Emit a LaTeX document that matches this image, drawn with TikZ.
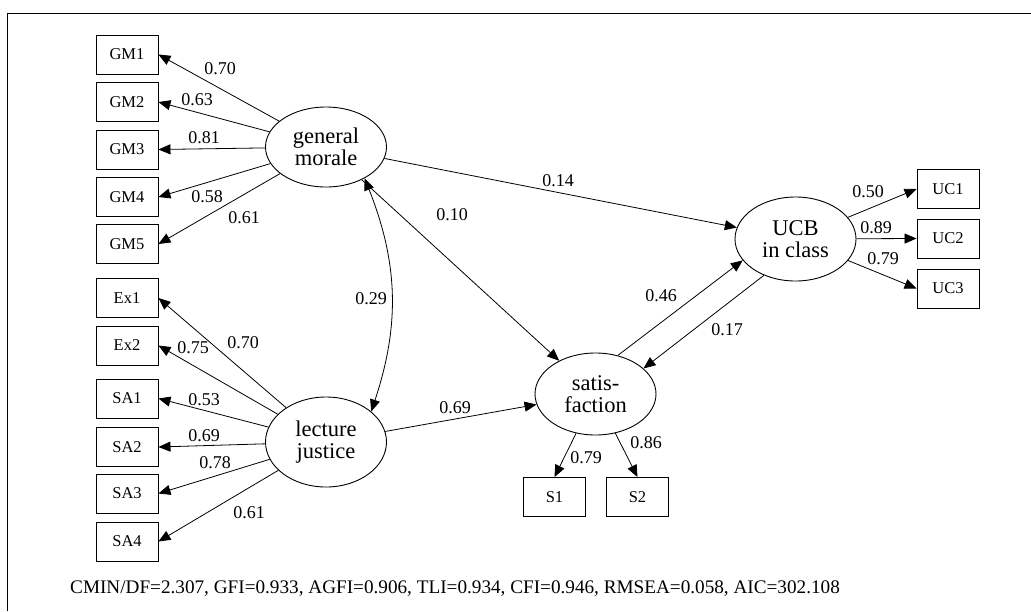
\documentclass[tikz,border=0pt]{standalone}
\usepackage{fontspec}
\setmainfont{Liberation Serif}
\usetikzlibrary{shapes.geometric,arrows.meta}
\tikzset{
  obs/.style={draw,line width=0.9pt,minimum width=62pt,minimum height=39pt,
    inner sep=0pt,font=\fontsize{16.5}{18}\selectfont},
  lat/.style={draw,ellipse,line width=0.9pt,minimum width=121pt,inner sep=0pt,
    align=center,font=\fontsize{22.5}{22}\selectfont},
  lbl/.style={inner sep=0pt,font=\fontsize{18}{18}\selectfont},
  arr/.style={line width=0.8pt,-{Triangle[length=12pt,width=10pt]}},
  arrboth/.style={line width=0.8pt,
    {Triangle[length=12pt,width=10pt]}-{Triangle[length=12pt,width=10pt]}},
}
\begin{document}
\begin{tikzpicture}[x=1pt,y=-1pt]
  \useasboundingbox (0,0) rectangle (1031,611);
  \draw[line width=1pt] (7,611) |- (1031,13);
  % observed variables
  \node[obs] (gm1) at (127,54.5) {GM1};
  \node[obs] (gm2) at (127,102) {GM2};
  \node[obs] (gm3) at (127,149.5) {GM3};
  \node[obs] (gm4) at (127,197) {GM4};
  \node[obs] (gm5) at (127,244) {GM5};
  \node[obs] (ex1) at (127,298) {Ex1};
  \node[obs] (ex2) at (127,345.5) {Ex2};
  \node[obs] (sa1) at (127,398.5) {SA1};
  \node[obs] (sa2) at (127,447) {SA2};
  \node[obs] (sa3) at (127,493.5) {SA3};
  \node[obs] (sa4) at (127,541.5) {SA4};
  \node[obs] (uc1) at (948,189) {UC1};
  \node[obs] (uc2) at (948,238.5) {UC2};
  \node[obs] (uc3) at (948,288.5) {UC3};
  \node[obs] (s1) at (554.5,497) {S1};
  \node[obs] (s2) at (637.5,497) {S2};
  % latent variables
  \node[lat,minimum height=80pt] (gm) at (326,147) {general\\morale};
  \node[lat,minimum height=90pt] (lj) at (326,442) {lecture\\justice};
  \node[lat,minimum height=82pt] (sat) at (595.5,394) {satis-\\faction};
  \node[lat,minimum height=84pt] (ucb) at (795.5,239) {UCB\\in class};
  % loadings
  \foreach \m in {gm1,gm2,gm3,gm4,gm5}
    \draw[arr] (gm) -- (\m.east);
  \foreach \m in {ex1,ex2,sa1,sa2,sa3,sa4}
    \draw[arr] (lj) -- (\m.east);
  \foreach \m in {uc1,uc2,uc3}
    \draw[arr] (ucb) -- (\m.west);
  \draw[arr] (sat) -- (s1.north);
  \draw[arr] (sat) -- (s2.north);
  % structural paths
  \draw[arrboth] (gm.-39) to[bend left=20] (lj.34);
  \draw[arr] (gm) -- (ucb);
  \draw[arr] (gm) -- (sat);
  \draw[arr] (lj) -- (sat);
  \draw[arr] (sat.60) -- (ucb.202);
  \draw[arr] (ucb.229) -- (sat.28);
  % coefficients
  \node[lbl] (lgm1) at (220,69) {0.70};
  \node[lbl] (lgm2) at (197,100) {0.63};
  \node[lbl] (lgm3) at (204,138) {0.81};
  \node[lbl] (lgm4) at (207,197) {0.58};
  \node[lbl] (lgm5) at (244,218) {0.61};
  \node[lbl] (lcov) at (371,299) {0.29};
  \node[lbl] (lex1) at (243,343) {0.70};
  \node[lbl] (lex2) at (193,348) {0.75};
  \node[lbl] (lsa1) at (204,400) {0.53};
  \node[lbl] (lsa2) at (204,436) {0.69};
  \node[lbl] (lsa3) at (215,463) {0.78};
  \node[lbl] (lsa4) at (249,513) {0.61};
  \node[lbl] (lgmucb) at (558,181) {0.14};
  \node[lbl] (lgmsat) at (452,215) {0.10};
  \node[lbl] (lljsat) at (455,408) {0.69};
  \node[lbl] (lsatucb) at (661,296) {0.46};
  \node[lbl] (lucbsat) at (727,330) {0.17};
  \node[lbl] (luc1) at (868,192) {0.50};
  \node[lbl] (luc2) at (876,228) {0.89};
  \node[lbl] (luc3) at (883,259) {0.79};
  \node[lbl] (ls1) at (586,458) {0.79};
  \node[lbl] (ls2) at (646,443) {0.86};
  % fit indices
  \node[anchor=base west,inner sep=0pt,font=\fontsize{19.2}{20}\selectfont] (fit) at (70,593)
    {CMIN/DF=2.307, GFI=0.933, AGFI=0.906, TLI=0.934, CFI=0.946, RMSEA=0.058, AIC=302.108};
\end{tikzpicture}
\end{document}
